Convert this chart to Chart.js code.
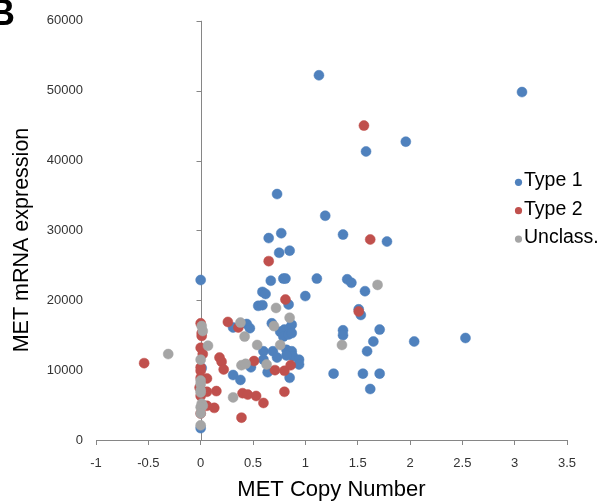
<!DOCTYPE html>
<html><head><meta charset="utf-8">
<script src="https://cdn.jsdelivr.net/npm/chart.js@4.4.0/dist/chart.umd.min.js"></script>
<style>html,body{margin:0;padding:0;background:#fff;overflow:hidden}</style>
</head><body>
<canvas id="c" width="603" height="504"></canvas>
<script>
const seriesNames = ['Type 1', 'Type 2', 'Unclass.'];
const seriesColors = ['#4F81BD', '#C0504D', '#A5A5A5'];
const xTickValues = [-1, -0.5, 0, 0.5, 1, 1.5, 2, 2.5, 3, 3.5];
const yTickValues = [0, 10000, 20000, 30000, 40000, 50000, 60000];
const xTitle = 'MET Copy Number';
const yTitle = 'MET mRNA expression';

const type1 = [
  [1.13,52200],[3.07,49800],[1.96,42700],[1.58,41300],[0.73,35200],[1.19,32100],
  [0.77,29600],[1.36,29400],[0.65,28900],[1.78,28400],[0.75,26800],[0.85,27100],
  [0,22900],[0.67,22800],[0.79,23100],[0.81,23100],[1.11,23100],[1.40,23000],
  [1.44,22500],[1.57,21300],[0.59,21200],[0.62,20900],[1.00,20600],[0.84,19400],
  [0.55,19200],[0.59,19300],[1.51,18700],[1.53,17900],[1.71,15800],[0.31,16100],
  [0.44,16600],[0.47,16000],[0.68,16700],[0.76,15500],[0.80,15800],[0.85,16000],
  [0.87,16500],[0.79,14800],[0.84,15100],[0.87,15300],[1.36,15700],[1.36,15000],
  [1.65,14100],[2.04,14100],[2.53,14600],[0.60,12700],[0.60,11500],[0.69,12700],
  [0.73,11800],[0.82,12900],[0.87,12700],[0.88,12000],[0.82,12100],[0.94,11500],
  [0.94,10800],[0.48,10400],[1.59,12700],[0.64,9700],[0.85,8900],[0.31,9300],
  [0.38,8600],[1.27,9500],[1.55,9500],[1.71,9500],[1.62,7300],[0,1700],[0.01,10300]
];
const type2 = [
  [1.56,45000],[1.62,28700],[0.65,25600],[0.81,20100],[1.51,18400],[0.26,16900],
  [0.36,16100],[0.18,11800],[0.20,11200],[0.22,10100],[0.51,11300],[0.71,10000],
  [0.80,9900],[0.86,10700],[0.80,6900],[0.40,6700],[0.45,6500],[0.53,6300],
  [0.60,5300],[0.39,3200],[-0.54,11000],[0,16700],[0.01,15300],[0.01,14900],
  [0,13200],[0.02,12300],[0,10400],[0,9900],[0,8900],[0.06,8800],[-0.01,7500],
  [0.06,6900],[0.15,7000],[0,6300],[0.06,4900],[0.13,4600],[0,3800]
];
const unclass = [
  [1.69,22200],[0.72,18900],[0.85,17500],[0.38,16800],[0.70,16300],[0.42,14800],
  [1.35,13600],[0.54,13600],[0.76,13600],[0.39,10700],[0.43,10900],[0.63,10800],
  [0.31,6100],[-0.31,12300],[0.01,16300],[0.02,15600],[0.07,13500],[0,11500],
  [0,8500],[0,8000],[0,6800],[0,7100],[0.01,5200],[0.02,4900],[0,4700],[0,3800],[0,2100]
];
const allSeries = [type1, type2, unclass];

const FONT = '"Liberation Sans", Arial, sans-serif';
const AXIS_GRAY = '#868686';

const datasets = allSeries.map((s, i) => ({
  label: seriesNames[i],
  data: s.map(p => ({x: p[0], y: p[1]})),
  backgroundColor: seriesColors[i],
  borderColor: seriesColors[i],
  borderWidth: 0.5,
  pointRadius: 5,
  pointHoverRadius: 5,
  order: 3 - i
}));

const extras = {
  id: 'extras',
  beforeDatasetsDraw(chart) {
    const ctx = chart.ctx, xs = chart.scales.x, ys = chart.scales.y;
    const x0 = Math.round(xs.getPixelForValue(0)) + 0.5;
    ctx.save();
    ctx.strokeStyle = AXIS_GRAY; ctx.lineWidth = 1;
    ctx.beginPath();
    ctx.moveTo(x0, ys.getPixelForValue(yTickValues[yTickValues.length - 1]));
    ctx.lineTo(x0, ys.getPixelForValue(0));
    yTickValues.forEach(v => {
      const py = Math.round(ys.getPixelForValue(v)) + 0.5;
      ctx.moveTo(x0 - 5, py); ctx.lineTo(x0, py);
    });
    ctx.stroke();
    ctx.restore();
  },
  afterDraw(chart) {
    const ctx = chart.ctx;
    ctx.save();
    // y-axis title
    ctx.fillStyle = '#000';
    ctx.font = '21.5px ' + FONT;
    ctx.textAlign = 'center';
    ctx.textBaseline = 'middle';
    ctx.translate(22, 240);
    ctx.rotate(-Math.PI / 2);
    ctx.fillText(yTitle, 0, 0);
    ctx.restore();
    ctx.save();
    // legend
    chart.data.datasets.forEach((ds, i) => {
      const cy = 182.3 + i * 28.4;
      ctx.fillStyle = ds.backgroundColor;
      ctx.beginPath(); ctx.arc(518.5, cy, 3.6, 0, Math.PI * 2); ctx.fill();
      ctx.fillStyle = '#000';
      ctx.font = '19.5px ' + FONT;
      ctx.textBaseline = 'alphabetic';
      ctx.fillText(ds.label, 524, cy + 4);
    });
    // panel letter
    ctx.fillStyle = '#000';
    ctx.font = 'bold 36px ' + FONT;
    ctx.fillText('B', -11, 25);
    ctx.restore();
  }
};

new Chart(document.getElementById('c'), {
  type: 'scatter',
  data: { datasets },
  options: {
    responsive: false,
    animation: false,
    devicePixelRatio: 1,
    layout: { padding: { top: 15, right: 36, left: 0, bottom: 0 } },
    plugins: { legend: { display: false }, tooltip: { enabled: false } },
    scales: {
      x: {
        type: 'linear', min: -1, max: 3.5,
        afterBuildTicks: s => { s.ticks = xTickValues.map(v => ({ value: v })); },
        afterFit: s => { s.height = 64; },
        grid: { display: true, drawOnChartArea: false, drawTicks: true, tickLength: 5, color: AXIS_GRAY, lineWidth: 1 },
        border: { display: true, color: AXIS_GRAY, width: 1 },
        ticks: { font: { size: 13, family: FONT }, color: '#333', padding: 11, maxRotation: 0, autoSkip: false,
                 callback: v => String(v) },
        title: { display: true, text: xTitle, font: { size: 22, family: FONT }, color: '#000', padding: { top: 0, bottom: 1 } }
      },
      y: {
        type: 'linear', min: 0, max: 60000,
        afterBuildTicks: s => { s.ticks = yTickValues.map(v => ({ value: v })); },
        afterFit: s => { s.width = 96; },
        grid: { display: false, drawTicks: false },
        border: { display: false },
        ticks: { font: { size: 13, family: FONT }, color: '#333', padding: 13, autoSkip: false,
                 callback: v => String(v) },
        title: { display: false }
      }
    }
  },
  plugins: [extras]
});
</script>
</body></html>
